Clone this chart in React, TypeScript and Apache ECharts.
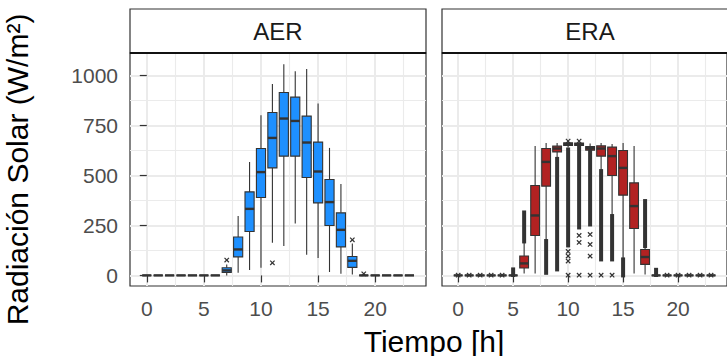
import React, { useEffect, useRef } from "react";
import * as echarts from "echarts";

const hours = [0, 1, 2, 3, 4, 5, 6, 7, 8, 9, 10, 11, 12, 13, 14, 15, 16, 17, 18, 19, 20, 21, 22, 23];
const panelNames = ["AER", "ERA"];
const xTicks = [0, 5, 10, 15, 20];
const xMinor = [2.5, 7.5, 12.5, 17.5, 22.5];
const yTicks = [0, 250, 500, 750, 1000];
const yMinor = [125, 375, 625, 875];

// AER boxplot statistics per hour
const aerLow = [0, 0, 0, 0, 0, 0, 0, 0, 13, 27, 38, 163, 147, 260, 103, 87, 17, 8, 5, 0, 0, 0, 0, 0];
const aerQ1 = [0, 0, 0, 0, 0, 0, 0, 15, 93, 220, 390, 538, 597, 597, 490, 363, 250, 143, 40, 0, 0, 0, 0, 0];
const aerMed = [0, 0, 0, 0, 0, 0, 0, 25, 130, 333, 517, 688, 785, 773, 665, 520, 367, 228, 73, 0, 0, 0, 0, 0];
const aerQ3 = [0, 0, 0, 0, 0, 0, 0, 38, 192, 418, 635, 815, 915, 892, 797, 667, 480, 313, 95, 0, 0, 0, 0, 0];
const aerHigh = [0, 0, 0, 0, 0, 0, 0, 55, 297, 567, 802, 958, 1057, 1022, 1033, 860, 638, 458, 160, 0, 0, 0, 0, 0];
const aerOutlierHours = [7, 11, 18, 19];
const aerOutlierValues = [77, 63, 178, 8];

// ERA boxplot statistics per hour
const eraLow = [0, 0, 0, 0, 0, 0, 10, 10, 172, 583, 640, 645, 622, 522, 297, 80, 10, 5, 0, 0, 0, 0, 0, 0];
const eraQ1 = [0, 0, 0, 0, 0, 0, 37, 200, 447, 618, 650, 650, 627, 597, 500, 402, 235, 55, 0, 0, 0, 0, 0, 0];
const eraMed = [0, 0, 0, 0, 0, 0, 60, 300, 568, 635, 657, 656, 637, 635, 597, 538, 347, 92, 0, 0, 0, 0, 0, 0];
const eraQ3 = [0, 0, 0, 0, 0, 0, 97, 450, 635, 647, 663, 662, 645, 648, 642, 625, 463, 130, 0, 0, 0, 0, 0, 0];
const eraHigh = [0, 0, 0, 0, 0, 0, 170, 647, 663, 663, 670, 670, 660, 663, 657, 663, 647, 147, 0, 0, 0, 0, 0, 0];
// ERA: ranges densely packed with outliers (read as continuous dark columns)
const eraDenseHours = [5, 6, 8, 9, 10, 11, 12, 13, 14, 15, 17, 18];
const eraDenseLow = [2, 170, 13, 30, 150, 240, 255, 80, 80, 0, 147, 2];
const eraDenseHigh = [30, 315, 172, 583, 630, 640, 622, 522, 297, 80, 372, 28];
// ERA: separate outliers
const eraOutlierHours = [0, 1, 2, 3, 4, 10, 10, 10, 10, 10, 11, 11, 11, 11, 12, 12, 12, 12, 13, 14, 19, 20, 21, 22, 23];
const eraOutlierValues = [1, 1, 1, 1, 1, 672, 97, 72, 120, 1, 672, 200, 165, 1, 205, 155, 97, 1, 1, 1, 1, 1, 1, 1, 1];

const FONT = "'Liberation Sans', Arial, sans-serif";
const DARK = "#333333";
const GRID_C = "#EBEBEB";
const X_MIN = -1.47;
const X_MAX = 24.45;
const Y_MIN = -53;
const Y_MAX = 1113;
const PANEL_LEFT = [130, 442];
const PANEL_W = 296;
const PANEL_TOP = 53;
const PANEL_H = 233;
const STRIP_TOP = 9;

function boxRows(low: number[], q1: number[], med: number[], q3: number[], high: number[]) {
  return hours.map((h, i) => [h, low[i], q1[i], med[i], q3[i], high[i]]);
}

function makeBoxRender(fill: string) {
  return (_params: any, api: any) => {
    const h = api.value(0);
    const lo = api.coord([h, api.value(1)]);
    const q1 = api.coord([h, api.value(2)]);
    const md = api.coord([h, api.value(3)]);
    const q3 = api.coord([h, api.value(4)]);
    const hi = api.coord([h, api.value(5)]);
    const half = api.size([0.8, 0])[0] / 2;
    const x = lo[0];
    const lineStyle = { stroke: DARK, lineWidth: 1.1 };
    return {
      type: "group",
      children: [
        { type: "line", shape: { x1: x, y1: hi[1], x2: x, y2: q3[1] }, style: lineStyle },
        { type: "line", shape: { x1: x, y1: q1[1], x2: x, y2: lo[1] }, style: lineStyle },
        {
          type: "rect",
          shape: { x: x - half, y: q3[1], width: half * 2, height: q1[1] - q3[1] },
          style: { fill, stroke: DARK, lineWidth: 1.1 },
        },
        { type: "line", shape: { x1: x - half, y1: md[1], x2: x + half, y2: md[1] }, style: { stroke: DARK, lineWidth: 2.4 } },
      ],
    };
  };
}

function renderCross(_params: any, api: any) {
  const p = api.coord([api.value(0), api.value(1)]);
  const s = 2.2;
  const st = { stroke: DARK, lineWidth: 1.2 };
  return {
    type: "group",
    children: [
      { type: "line", shape: { x1: p[0] - s, y1: p[1] - s, x2: p[0] + s, y2: p[1] + s }, style: st },
      { type: "line", shape: { x1: p[0] - s, y1: p[1] + s, x2: p[0] + s, y2: p[1] - s }, style: st },
    ],
  };
}

function renderDense(_params: any, api: any) {
  const a = api.coord([api.value(0), api.value(1)]);
  const b = api.coord([api.value(0), api.value(2)]);
  const w = 4;
  return {
    type: "rect",
    shape: { x: a[0] - w / 2, y: b[1] - 2, width: w, height: a[1] - b[1] + 4 },
    style: { fill: DARK },
  };
}

const fmt = (v: number) => String(v);

export default function App() {
  const ref = useRef<HTMLDivElement>(null);

  useEffect(() => {
    document.body.style.margin = "0";
    if (!ref.current) return;
    const chart = echarts.init(ref.current, undefined, { renderer: "svg" });

    const grids = PANEL_LEFT.map((left) => ({
      left,
      top: PANEL_TOP,
      width: PANEL_W,
      height: PANEL_H,
      show: true,
      borderColor: DARK,
      borderWidth: 1.2,
      backgroundColor: "#fff",
      z: 0,
    }));

    const xAxes: any[] = [];
    const yAxes: any[] = [];
    [0, 1].forEach((g) => {
      xAxes.push({
        gridIndex: g,
        type: "value",
        min: X_MIN,
        max: X_MAX,
        position: "bottom",
        axisLine: { show: false },
        axisTick: { show: true, length: 7, lineStyle: { color: DARK, width: 1.2 }, customValues: xTicks },
        axisLabel: { customValues: xTicks, formatter: fmt, fontSize: 21, color: "#4D4D4D", fontFamily: FONT, margin: 12 },
        splitLine: { show: true, lineStyle: { color: GRID_C, width: 2 } },
      });
      xAxes.push({
        gridIndex: g,
        type: "value",
        min: X_MIN,
        max: X_MAX,
        position: "top",
        axisLine: { show: false },
        axisTick: { show: false, customValues: xMinor },
        axisLabel: { show: false, customValues: xMinor },
        splitLine: { show: true, lineStyle: { color: GRID_C, width: 1.1 } },
      });
      yAxes.push({
        gridIndex: g,
        type: "value",
        min: Y_MIN,
        max: Y_MAX,
        position: "left",
        name: g === 0 ? "Radiación Solar (W/m²)" : "",
        nameLocation: "middle",
        nameGap: 98,
        nameTextStyle: { fontSize: 30, color: "#000", fontFamily: FONT },
        axisLine: { show: false },
        axisTick: { show: g === 0, length: 7, lineStyle: { color: DARK, width: 1.2 }, customValues: yTicks },
        axisLabel: { show: g === 0, customValues: yTicks, formatter: fmt, fontSize: 21, color: "#4D4D4D", fontFamily: FONT, margin: 12 },
        splitLine: { show: true, lineStyle: { color: GRID_C, width: 2 } },
      });
      yAxes.push({
        gridIndex: g,
        type: "value",
        min: Y_MIN,
        max: Y_MAX,
        position: "right",
        axisLine: { show: false },
        axisTick: { show: false, customValues: yMinor },
        axisLabel: { show: false, customValues: yMinor },
        splitLine: { show: true, lineStyle: { color: GRID_C, width: 1.1 } },
      });
    });

    const series: any[] = [
      {
        type: "custom",
        xAxisIndex: 0,
        yAxisIndex: 0,
        renderItem: makeBoxRender("#1E90FF"),
        encode: { x: 0, y: [1, 2, 3, 4, 5] },
        data: boxRows(aerLow, aerQ1, aerMed, aerQ3, aerHigh),
        z: 3,
      },
      {
        type: "custom",
        xAxisIndex: 0,
        yAxisIndex: 0,
        renderItem: renderCross,
        encode: { x: 0, y: 1 },
        data: aerOutlierHours.map((h, i) => [h, aerOutlierValues[i]]),
        z: 4,
      },
      {
        type: "custom",
        xAxisIndex: 2,
        yAxisIndex: 2,
        renderItem: makeBoxRender("#B22222"),
        encode: { x: 0, y: [1, 2, 3, 4, 5] },
        data: boxRows(eraLow, eraQ1, eraMed, eraQ3, eraHigh),
        z: 3,
      },
      {
        type: "custom",
        xAxisIndex: 2,
        yAxisIndex: 2,
        renderItem: renderDense,
        encode: { x: 0, y: [1, 2] },
        data: eraDenseHours.map((h, i) => [h, eraDenseLow[i], eraDenseHigh[i]]),
        z: 4,
      },
      {
        type: "custom",
        xAxisIndex: 2,
        yAxisIndex: 2,
        renderItem: renderCross,
        encode: { x: 0, y: 1 },
        data: eraOutlierHours.map((h, i) => [h, eraOutlierValues[i]]),
        z: 4,
      },
    ];

    const graphics: any[] = [];
    PANEL_LEFT.forEach((left, i) => {
      graphics.push({
        type: "rect",
        shape: { x: left, y: STRIP_TOP, width: PANEL_W, height: PANEL_TOP - STRIP_TOP },
        style: { fill: "#fff", stroke: DARK, lineWidth: 1.2 },
        z: 10,
      });
      graphics.push({
        type: "line",
        shape: { x1: left, y1: PANEL_TOP, x2: left + PANEL_W, y2: PANEL_TOP },
        style: { stroke: "#111", lineWidth: 2.2 },
        z: 11,
      });
      graphics.push({
        type: "text",
        x: left + PANEL_W / 2,
        y: (STRIP_TOP + PANEL_TOP) / 2,
        style: {
          text: panelNames[i],
          fontSize: 24,
          fill: "#1A1A1A",
          fontFamily: FONT,
          textAlign: "center",
          textVerticalAlign: "middle",
        },
        z: 12,
      });
    });
    graphics.push({
      type: "text",
      x: (PANEL_LEFT[0] + PANEL_LEFT[1] + PANEL_W) / 2,
      y: 341,
      style: {
        text: "Tiempo [h]",
        fontSize: 30,
        fill: "#000",
        fontFamily: FONT,
        textAlign: "center",
        textVerticalAlign: "middle",
      },
      z: 12,
    });

    chart.setOption({
      animation: false,
      backgroundColor: "#fff",
      grid: grids,
      xAxis: xAxes,
      yAxis: yAxes,
      series,
      graphic: graphics,
    });

    return () => chart.dispose();
  }, []);

  return <div ref={ref} style={{ width: 727, height: 356 }} />;
}
